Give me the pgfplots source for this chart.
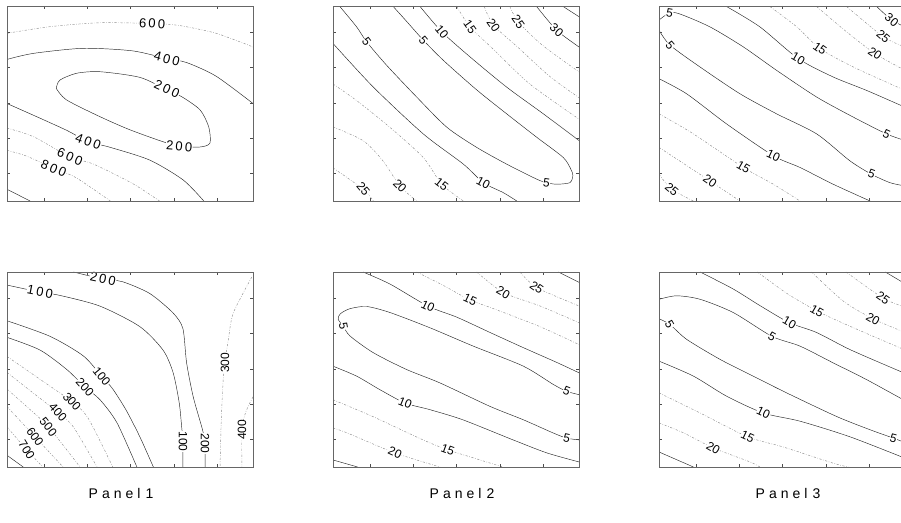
\documentclass[border=0pt]{standalone}
\usepackage{pgfplots}
\pgfplotsset{compat=1.18}
\usepackage{fontspec}
\setmainfont{Liberation Sans}
\newcommand\ls{\hspace{2.2pt}}
\newcommand\ptitle[1]{P\hspace{4pt}a\hspace{4pt}n\hspace{4pt}e\hspace{4pt}l\hspace{5pt}#1}
\tikzset{
  c1/.style={black!85, line width=0.45pt, smooth, tension=0.45},
  c2/.style={black!45, line width=0.45pt, smooth, tension=0.45, dash pattern=on 2.2pt off 1.6pt on 0.6pt off 1.6pt},
  lab/.style={font=\fontsize{12}{12}\selectfont, fill=white, inner sep=0.4pt},
  slab/.style={font=\fontsize{13}{13}\selectfont, fill=white, inner sep=0.4pt},
}
\pgfplotsset{panel/.style={
  scale only axis, width=246pt, height=195pt, anchor=south west,
  xmin=0, xmax=1, ymin=0, ymax=1,
  xtick={0.15,0.326,0.502,0.678,0.854}, ytick={0.144,0.324,0.504,0.684,0.864},
  xticklabels={}, yticklabels={},
  tick align=inside, major tick length=3pt,
  tick style={black!70, line width=0.4pt},
  axis line style={black!60, line width=0.5pt},
  axis on top,
}}
\begin{document}
\begin{tikzpicture}[x=1pt,y=1pt]
\path[use as bounding box] (0,0) rectangle (901,522);

% ---------------- Panel 1 top
\begin{axis}[panel, at={(7pt,321pt)}]
\addplot[c1] coordinates {(0.20,0.578) (0.215,0.62) (0.283,0.655) (0.378,0.663) (0.54,0.634) (0.65,0.57) (0.71,0.535) (0.785,0.467) (0.82,0.38) (0.825,0.297) (0.785,0.277) (0.70,0.28) (0.62,0.31) (0.49,0.37) (0.365,0.44) (0.24,0.52) (0.20,0.578)};
\addplot[c1] coordinates {(0,0.726) (0.107,0.757) (0.31,0.783) (0.51,0.77) (0.65,0.73) (0.73,0.71) (0.85,0.64) (1.0,0.50)};
\addplot[c2] coordinates {(0,0.86) (0.175,0.894) (0.378,0.914) (0.59,0.91) (0.70,0.90) (0.85,0.86) (1.0,0.79)};
\addplot[c1] coordinates {(0,0.50) (0.107,0.44) (0.24,0.364) (0.33,0.305) (0.42,0.275) (0.58,0.21) (0.716,0.108) (0.80,0.0)};
\addplot[c2] coordinates {(0,0.374) (0.107,0.33) (0.256,0.226) (0.35,0.19) (0.51,0.09) (0.62,0.0)};
\addplot[c2] coordinates {(0,0.26) (0.08,0.23) (0.19,0.167) (0.28,0.12) (0.42,0.0)};
\addplot[c1] coordinates {(0,0.06) (0.094,0.0)};
\node[slab, rotate=-4] at (axis cs:0.59,0.91) {6\ls0\ls0};
\node[slab, rotate=-15] at (axis cs:0.65,0.73) {4\ls0\ls0};
\node[slab, rotate=-25] at (axis cs:0.65,0.575) {2\ls0\ls0};
\node[slab, rotate=-5] at (axis cs:0.70,0.28) {2\ls0\ls0};
\node[slab, rotate=-20] at (axis cs:0.33,0.305) {4\ls0\ls0};
\node[slab, rotate=-23] at (axis cs:0.256,0.226) {6\ls0\ls0};
\node[slab, rotate=-23] at (axis cs:0.19,0.167) {8\ls0\ls0};
\end{axis}

% ---------------- Panel 2 top
\begin{axis}[panel, at={(333pt,321pt)}]
\addplot[c1] coordinates {(0.028,0.997) (0.096,0.893) (0.137,0.816) (0.218,0.696) (0.341,0.532) (0.463,0.378) (0.584,0.275) (0.706,0.189) (0.828,0.112) (0.868,0.094) (0.909,0.086) (0.963,0.094) (0.975,0.13) (0.968,0.16) (0.936,0.223) (0.828,0.327) (0.706,0.447) (0.584,0.570) (0.448,0.722) (0.367,0.825) (0.30,0.92) (0.245,0.997)};
\addplot[c1] coordinates {(0.354,0.997) (0.442,0.868) (0.557,0.739) (0.706,0.584) (0.855,0.447) (1.0,0.31)};
\addplot[c2] coordinates {(0.503,0.997) (0.557,0.893) (0.65,0.78) (0.80,0.60) (1.0,0.42)};
\addplot[c2] coordinates {(0.615,0.997) (0.652,0.902) (0.75,0.79) (0.88,0.64) (1.0,0.53)};
\addplot[c2] coordinates {(0.719,0.997) (0.753,0.919) (0.85,0.80) (1.0,0.662)};
\addplot[c1] coordinates {(0.828,0.997) (0.909,0.876) (1.0,0.79)};
\addplot[c1] coordinates {(0.936,0.997) (1.0,0.945)};
\addplot[c1] coordinates {(0,0.808) (0.164,0.584) (0.367,0.344) (0.53,0.189) (0.611,0.094) (0.692,0.043) (0.747,0.0)};
\addplot[c2] coordinates {(0,0.60) (0.096,0.515) (0.231,0.378) (0.367,0.223) (0.442,0.086) (0.53,0.0)};
\addplot[c2] coordinates {(0,0.38) (0.123,0.309) (0.203,0.206) (0.272,0.077) (0.34,0.0)};
\addplot[c2] coordinates {(0,0.17) (0.123,0.06) (0.164,0.0)};
\node[lab, rotate=-52] at (axis cs:0.137,0.816) {5};
\node[lab, rotate=-50] at (axis cs:0.367,0.825) {5};
\node[lab, rotate=-50] at (axis cs:0.442,0.868) {10};
\node[lab, rotate=-55] at (axis cs:0.557,0.893) {15};
\node[lab, rotate=-55] at (axis cs:0.652,0.902) {20};
\node[lab, rotate=-55] at (axis cs:0.753,0.919) {25};
\node[lab, rotate=-42] at (axis cs:0.909,0.876) {30};
\node[lab, rotate=-8] at (axis cs:0.868,0.094) {5};
\node[lab, rotate=-28] at (axis cs:0.611,0.094) {10};
\node[lab, rotate=-38] at (axis cs:0.442,0.086) {15};
\node[lab, rotate=-45] at (axis cs:0.272,0.077) {20};
\node[lab, rotate=-50] at (axis cs:0.123,0.06) {25};
\end{axis}

% ---------------- Panel 3 top
\begin{axis}[panel, at={(659pt,321pt)}]
\addplot[c1] coordinates {(0,0.928) (0.043,0.965) (0.085,0.959) (0.207,0.893) (0.343,0.79) (0.478,0.67) (0.641,0.533) (0.79,0.43) (0.925,0.344) (1.0,0.31)};
\addplot[c1] coordinates {(0,0.876) (0.045,0.799) (0.167,0.687) (0.329,0.55) (0.478,0.447) (0.641,0.344) (0.776,0.206) (0.864,0.137) (0.939,0.094) (1.0,0.077)};
\addplot[c1] coordinates {(0.275,0.997) (0.41,0.893) (0.566,0.73) (0.708,0.636) (0.844,0.567) (1.0,0.481)};
\addplot[c2] coordinates {(0.451,0.997) (0.56,0.893) (0.654,0.782) (0.79,0.687) (1.0,0.567)};
\addplot[c2] coordinates {(0.641,0.997) (0.76,0.87) (0.878,0.756) (1.0,0.67)};
\addplot[c2] coordinates {(0.763,0.997) (0.912,0.842) (1.0,0.79)};
\addplot[c1] coordinates {(0.885,0.997) (0.946,0.928) (1.0,0.893)};
\addplot[c1] coordinates {(0,0.627) (0.112,0.55) (0.275,0.395) (0.465,0.232) (0.573,0.172) (0.708,0.086) (0.858,0.0)};
\addplot[c2] coordinates {(0,0.447) (0.14,0.344) (0.343,0.172) (0.465,0.086) (0.573,0.0)};
\addplot[c2] coordinates {(0,0.275) (0.207,0.103) (0.329,0.0)};
\addplot[c2] coordinates {(0,0.137) (0.052,0.06) (0.14,0.0)};
\node[lab, rotate=-10] at (axis cs:0.043,0.965) {5};
\node[lab, rotate=-50] at (axis cs:0.045,0.799) {5};
\node[lab, rotate=-30] at (axis cs:0.566,0.73) {10};
\node[lab, rotate=-35] at (axis cs:0.654,0.782) {15};
\node[lab, rotate=-35] at (axis cs:0.878,0.756) {20};
\node[lab, rotate=-40] at (axis cs:0.912,0.842) {25};
\node[lab, rotate=-40] at (axis cs:0.946,0.928) {30};
\node[lab, rotate=-25] at (axis cs:0.925,0.344) {5};
\node[lab, rotate=-20] at (axis cs:0.864,0.137) {5};
\node[lab, rotate=-25] at (axis cs:0.465,0.232) {10};
\node[lab, rotate=-30] at (axis cs:0.343,0.172) {15};
\node[lab, rotate=-35] at (axis cs:0.207,0.103) {20};
\node[lab, rotate=-40] at (axis cs:0.052,0.06) {25};
\end{axis}

% ---------------- Panel 1 bottom
\begin{axis}[panel, at={(7pt,55pt)}]
\addplot[c1] coordinates {(0.27,1.0) (0.39,0.964) (0.47,0.95) (0.58,0.89) (0.675,0.79) (0.715,0.71) (0.73,0.535) (0.757,0.36) (0.795,0.19) (0.805,0.12) (0.805,0.0)};
\addplot[c1] coordinates {(0,0.933) (0.134,0.897) (0.215,0.88) (0.378,0.825) (0.54,0.72) (0.634,0.60) (0.675,0.485) (0.70,0.33) (0.71,0.206) (0.715,0.13) (0.715,0.0)};
\addplot[c2] coordinates {(0.995,0.974) (0.92,0.79) (0.90,0.655) (0.886,0.535) (0.878,0.43) (0.87,0.2) (0.866,0.0)};
\addplot[c2] coordinates {(1.0,0.36) (0.97,0.28) (0.955,0.19) (0.955,0.0)};
\addplot[c1] coordinates {(0,0.75) (0.175,0.67) (0.31,0.57) (0.385,0.465) (0.43,0.40) (0.485,0.29) (0.54,0.155) (0.595,0.0)};
\addplot[c1] coordinates {(0,0.665) (0.134,0.60) (0.243,0.50) (0.317,0.41) (0.378,0.345) (0.447,0.227) (0.528,0.0)};
\addplot[c2] coordinates {(0,0.567) (0.134,0.45) (0.264,0.335) (0.33,0.25) (0.43,0.0)};
\addplot[c2] coordinates {(0,0.485) (0.106,0.38) (0.207,0.28) (0.27,0.205) (0.366,0.0)};
\addplot[c2] coordinates {(0,0.40) (0.08,0.31) (0.168,0.206) (0.297,0.0)};
\addplot[c2] coordinates {(0,0.31) (0.114,0.155) (0.228,0.0)};
\addplot[c2] coordinates {(0,0.206) (0.08,0.088) (0.146,0.0)};
\addplot[c1] coordinates {(0,0.06) (0.066,0.0)};
\node[slab, rotate=-12] at (axis cs:0.39,0.964) {2\ls0\ls0};
\node[slab, rotate=-11] at (axis cs:0.134,0.897) {1\ls0\ls0};
\node[lab, rotate=-90] at (axis cs:0.715,0.13) {100};
\node[lab, rotate=-90] at (axis cs:0.805,0.12) {200};
\node[lab, rotate=90] at (axis cs:0.886,0.535) {300};
\node[lab, rotate=90] at (axis cs:0.955,0.19) {400};
\node[lab, rotate=-50] at (axis cs:0.385,0.465) {100};
\node[lab, rotate=-48] at (axis cs:0.317,0.41) {200};
\node[lab, rotate=-48] at (axis cs:0.264,0.335) {300};
\node[lab, rotate=-48] at (axis cs:0.207,0.28) {400};
\node[lab, rotate=-52] at (axis cs:0.168,0.206) {500};
\node[lab, rotate=-54] at (axis cs:0.114,0.155) {600};
\node[lab, rotate=-58] at (axis cs:0.08,0.088) {700};
\end{axis}

% ---------------- Panel 2 bottom
\begin{axis}[panel, at={(333pt,55pt)}]
\addplot[c1] coordinates {(1.0,0.371) (0.95,0.388) (0.896,0.423) (0.774,0.517) (0.57,0.62) (0.394,0.714) (0.232,0.792) (0.137,0.823) (0.069,0.812) (0.03,0.786) (0.021,0.758) (0.042,0.722) (0.069,0.672) (0.164,0.586) (0.299,0.5) (0.435,0.431) (0.638,0.311) (0.774,0.242) (0.896,0.174) (0.95,0.148) (1.0,0.139)};
\addplot[c1] coordinates {(0.122,1.0) (0.232,0.938) (0.386,0.825) (0.504,0.768) (0.638,0.69) (0.772,0.613) (0.91,0.536) (1.0,0.483)};
\addplot[c2] coordinates {(0.34,1.0) (0.45,0.93) (0.557,0.857) (0.665,0.806) (0.841,0.72) (1.0,0.628)};
\addplot[c2] coordinates {(0.584,1.0) (0.692,0.895) (0.841,0.826) (1.0,0.74)};
\addplot[c2] coordinates {(0.76,1.0) (0.828,0.92) (1.0,0.826)};
\addplot[c1] coordinates {(0.916,1.0) (1.0,0.947)};
\addplot[c1] coordinates {(0,0.517) (0.096,0.466) (0.19,0.397) (0.293,0.328) (0.394,0.294) (0.528,0.242) (0.732,0.139) (0.87,0.072) (1.0,0.026)};
\addplot[c2] coordinates {(0,0.345) (0.163,0.258) (0.366,0.139) (0.467,0.088) (0.598,0.036) (0.69,0.0)};
\addplot[c2] coordinates {(0,0.2) (0.057,0.175) (0.252,0.072) (0.435,0.0)};
\addplot[c1] coordinates {(0,0.036) (0.1,0.0)};
\node[lab, rotate=-80] at (axis cs:0.042,0.722) {5};
\node[lab, rotate=-22] at (axis cs:0.95,0.388) {5};
\node[lab, rotate=-12] at (axis cs:0.95,0.148) {5};
\node[lab, rotate=-25] at (axis cs:0.386,0.825) {10};
\node[lab, rotate=-25] at (axis cs:0.557,0.857) {15};
\node[lab, rotate=-30] at (axis cs:0.692,0.895) {20};
\node[lab, rotate=-35] at (axis cs:0.828,0.92) {25};
\node[lab, rotate=-22] at (axis cs:0.293,0.328) {10};
\node[lab, rotate=-20] at (axis cs:0.467,0.088) {15};
\node[lab, rotate=-25] at (axis cs:0.252,0.072) {20};
\end{axis}

% ---------------- Panel 3 bottom
\begin{axis}[panel, at={(659pt,55pt)}]
\addplot[c1] coordinates {(0,0.86) (0.071,0.878) (0.167,0.86) (0.302,0.792) (0.459,0.67) (0.573,0.62) (0.708,0.534) (0.844,0.448) (1.0,0.34)};
\addplot[c1] coordinates {(0,0.76) (0.0434,0.732) (0.112,0.655) (0.248,0.552) (0.383,0.466) (0.519,0.38) (0.722,0.259) (0.858,0.191) (0.953,0.148) (1.0,0.125)};
\addplot[c1] coordinates {(0.167,1.0) (0.30,0.914) (0.41,0.828) (0.53,0.74) (0.64,0.69) (0.78,0.60) (1.0,0.48)};
\addplot[c2] coordinates {(0.40,1.0) (0.52,0.89) (0.642,0.80) (0.776,0.722) (1.0,0.60)};
\addplot[c2] coordinates {(0.62,1.0) (0.75,0.85) (0.87,0.76) (1.0,0.69)};
\addplot[c2] coordinates {(0.76,1.0) (0.911,0.866) (1.0,0.82)};
\addplot[c1] coordinates {(0.92,1.0) (1.0,0.94)};
\addplot[c1] coordinates {(0,0.543) (0.14,0.466) (0.275,0.363) (0.424,0.277) (0.573,0.235) (0.776,0.155) (1.0,0.045)};
\addplot[c2] coordinates {(0,0.38) (0.167,0.277) (0.36,0.155) (0.504,0.103) (0.707,0.02) (0.77,0.0)};
\addplot[c2] coordinates {(0,0.226) (0.1,0.175) (0.22,0.098) (0.37,0.026) (0.41,0.0)};
\addplot[c1] coordinates {(0,0.077) (0.14,0.0)};
\node[lab, rotate=-60] at (axis cs:0.0434,0.732) {5};
\node[lab, rotate=-30] at (axis cs:0.459,0.67) {5};
\node[lab, rotate=-30] at (axis cs:0.53,0.74) {10};
\node[lab, rotate=-30] at (axis cs:0.642,0.80) {15};
\node[lab, rotate=-30] at (axis cs:0.87,0.76) {20};
\node[lab, rotate=-35] at (axis cs:0.911,0.866) {25};
\node[lab, rotate=-15] at (axis cs:0.953,0.148) {5};
\node[lab, rotate=-25] at (axis cs:0.424,0.277) {10};
\node[lab, rotate=-25] at (axis cs:0.36,0.155) {15};
\node[lab, rotate=-30] at (axis cs:0.22,0.098) {20};
\end{axis}

\node[font=\fontsize{14}{14}\selectfont] at (121,29) {\ptitle{1}};
\node[font=\fontsize{14}{14}\selectfont] at (462,29) {\ptitle{2}};
\node[font=\fontsize{14}{14}\selectfont] at (788,29) {\ptitle{3}};
\end{tikzpicture}
\end{document}
